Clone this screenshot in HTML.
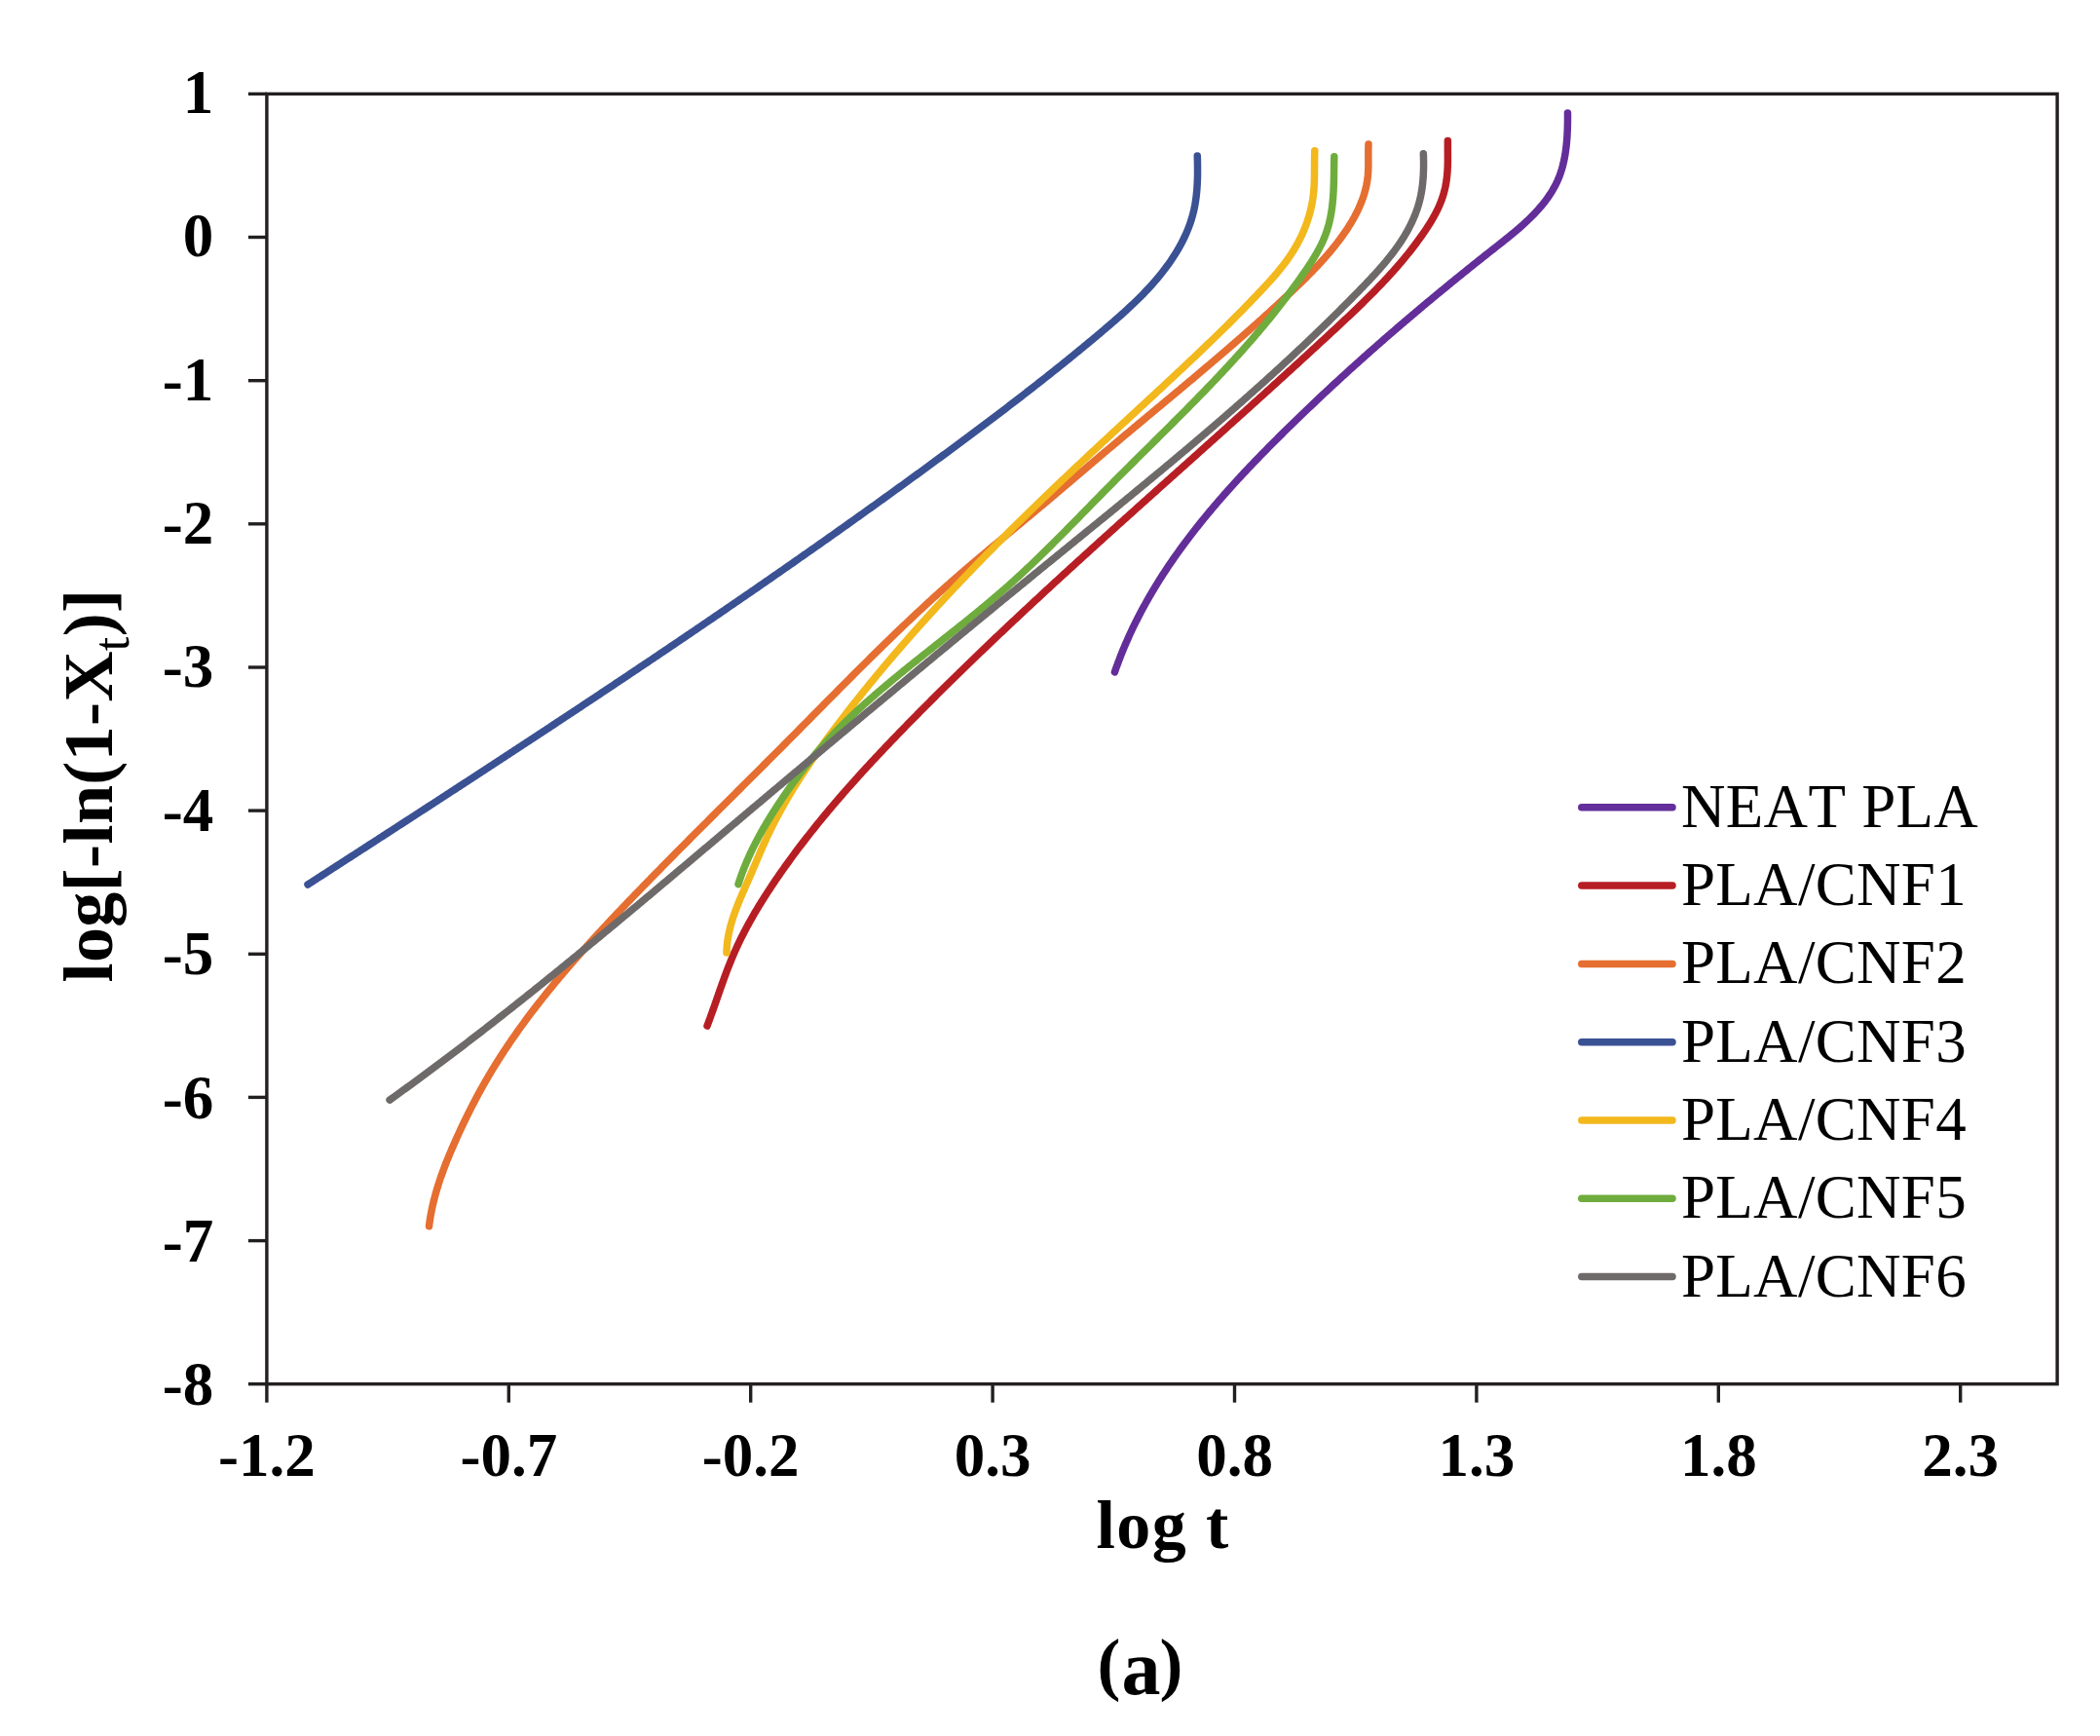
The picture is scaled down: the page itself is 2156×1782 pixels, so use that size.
<!DOCTYPE html>
<html><head><meta charset="utf-8"><title>chart</title>
<style>html,body{margin:0;padding:0;background:#fff}svg{display:block}text{font-family:"Liberation Serif",serif;fill:#000;font-kerning:none}.b{font-weight:bold}</style></head><body>
<svg width="2156" height="1782" viewBox="0 0 2156 1782">
<rect width="2156" height="1782" fill="#fff"/>
<g fill="none" stroke-width="7.5" stroke-linecap="round" stroke-linejoin="round">
<polyline stroke="#632e99" points="1144.40,689.91 1145.24,687.50 1146.10,685.10 1146.97,682.71 1147.85,680.33 1148.74,677.95 1149.65,675.58 1150.57,673.22 1151.51,670.87 1152.46,668.52 1153.42,666.18 1154.39,663.85 1155.38,661.53 1156.38,659.22 1157.40,656.91 1158.42,654.61 1159.46,652.32 1160.51,650.03 1161.57,647.75 1162.65,645.48 1163.74,643.21 1164.84,640.96 1165.95,638.71 1167.07,636.46 1168.21,634.23 1169.35,632.00 1170.51,629.78 1171.68,627.56 1172.86,625.35 1174.05,623.15 1175.25,620.95 1176.47,618.76 1177.69,616.58 1178.93,614.41 1180.18,612.24 1181.43,610.07 1182.70,607.92 1183.98,605.77 1185.27,603.62 1186.56,601.49 1187.87,599.36 1189.19,597.23 1190.52,595.11 1191.86,593.00 1193.21,590.89 1194.56,588.79 1195.93,586.70 1197.31,584.61 1198.69,582.53 1200.09,580.45 1201.49,578.38 1202.91,576.31 1204.33,574.25 1205.76,572.20 1207.20,570.15 1208.65,568.11 1210.10,566.07 1211.57,564.04 1213.04,562.02 1214.52,559.99 1216.01,557.98 1217.51,555.97 1219.02,553.96 1220.53,551.96 1222.05,549.97 1223.58,547.98 1225.12,546.00 1226.66,544.02 1228.21,542.04 1229.77,540.07 1231.33,538.11 1232.91,536.15 1234.49,534.20 1236.07,532.25 1237.66,530.30 1239.26,528.36 1240.87,526.43 1242.48,524.50 1244.10,522.57 1245.72,520.65 1247.35,518.73 1248.99,516.82 1250.63,514.91 1252.28,513.00 1253.94,511.10 1255.60,509.21 1257.26,507.32 1258.93,505.43 1260.61,503.55 1262.29,501.67 1263.98,499.79 1265.67,497.92 1267.36,496.06 1269.06,494.19 1270.77,492.33 1272.48,490.48 1274.19,488.63 1275.91,486.78 1277.64,484.93 1279.36,483.09 1281.10,481.26 1282.83,479.42 1284.57,477.59 1286.31,475.77 1288.06,473.94 1289.81,472.12 1291.57,470.31 1293.32,468.50 1295.08,466.69 1296.85,464.88 1298.62,463.08 1300.39,461.28 1302.16,459.48 1303.94,457.68 1305.71,455.89 1307.49,454.11 1309.28,452.32 1311.06,450.54 1312.85,448.76 1314.64,446.98 1316.44,445.21 1318.23,443.44 1320.03,441.67 1321.83,439.90 1323.62,438.14 1325.43,436.38 1327.23,434.62 1329.04,432.86 1330.84,431.11 1332.65,429.36 1334.46,427.61 1336.27,425.86 1338.09,424.12 1339.90,422.38 1341.72,420.64 1343.54,418.90 1345.36,417.17 1347.18,415.43 1349.00,413.70 1350.83,411.98 1352.65,410.25 1354.48,408.53 1356.31,406.81 1358.15,405.09 1359.98,403.38 1361.82,401.66 1363.65,399.95 1365.49,398.24 1367.33,396.53 1369.17,394.83 1371.02,393.13 1372.86,391.43 1374.71,389.73 1376.56,388.03 1378.41,386.34 1380.26,384.65 1382.12,382.96 1383.97,381.27 1385.83,379.59 1387.69,377.90 1389.55,376.22 1391.42,374.54 1393.28,372.86 1395.15,371.19 1397.01,369.52 1398.88,367.84 1400.76,366.18 1402.63,364.51 1404.50,362.84 1406.38,361.18 1408.26,359.52 1410.14,357.86 1412.02,356.20 1413.90,354.54 1415.79,352.89 1417.67,351.24 1419.56,349.59 1421.45,347.94 1423.34,346.29 1425.24,344.65 1427.13,343.00 1429.03,341.36 1430.93,339.72 1432.83,338.09 1434.73,336.45 1436.63,334.81 1438.54,333.18 1440.45,331.55 1442.36,329.92 1444.27,328.29 1446.18,326.67 1448.09,325.04 1450.01,323.42 1451.93,321.80 1453.85,320.18 1455.77,318.56 1457.69,316.94 1459.61,315.33 1461.54,313.72 1463.47,312.10 1465.40,310.49 1467.33,308.88 1469.26,307.28 1471.20,305.67 1473.13,304.07 1475.07,302.46 1477.01,300.86 1478.95,299.26 1480.90,297.66 1482.84,296.06 1484.79,294.47 1486.74,292.87 1488.69,291.28 1490.64,289.69 1492.59,288.10 1494.55,286.51 1496.50,284.92 1498.46,283.33 1500.42,281.75 1502.39,280.16 1504.35,278.58 1506.32,277.00 1508.28,275.41 1510.25,273.83 1512.22,272.26 1514.20,270.68 1516.17,269.10 1518.15,267.53 1520.12,265.95 1522.10,264.38 1524.09,262.81 1526.07,261.24 1528.05,259.67 1530.04,258.10 1532.03,256.53 1534.02,254.97 1536.01,253.40 1538.00,251.83 1539.99,250.27 1541.98,248.70 1543.96,247.12 1545.94,245.54 1547.91,243.96 1549.87,242.37 1551.83,240.77 1553.77,239.16 1555.70,237.55 1557.62,235.92 1559.53,234.28 1561.42,232.63 1563.29,230.97 1565.14,229.29 1566.98,227.59 1568.79,225.88 1570.59,224.15 1572.36,222.40 1574.10,220.63 1575.82,218.84 1577.52,217.03 1579.18,215.20 1580.81,213.35 1582.41,211.47 1583.98,209.57 1585.51,207.65 1586.99,205.70 1588.44,203.73 1589.85,201.73 1591.22,199.71 1592.53,197.66 1593.80,195.59 1595.02,193.48 1596.19,191.36 1597.31,189.20 1598.37,187.01 1599.38,184.80 1600.33,182.55 1601.22,180.28 1602.05,177.98 1602.82,175.65 1603.54,173.30 1604.21,170.92 1604.83,168.53 1605.39,166.11 1605.92,163.67 1606.40,161.22 1606.83,158.75 1607.22,156.27 1607.58,153.77 1607.90,151.26 1608.18,148.75 1608.43,146.22 1608.64,143.69 1608.83,141.16 1608.99,138.62 1609.12,136.08 1609.23,133.54 1609.31,131.01 1609.38,128.47 1609.43,125.94 1609.46,123.42 1609.47,120.90 1609.47,118.39 1609.46,115.90"/>
<polyline stroke="#b71e24" points="726.01,1053.10 726.90,1050.76 727.77,1048.41 728.64,1046.06 729.50,1043.71 730.35,1041.35 731.19,1038.99 732.03,1036.63 732.87,1034.26 733.70,1031.90 734.52,1029.54 735.35,1027.17 736.17,1024.80 737.00,1022.44 737.82,1020.07 738.65,1017.71 739.48,1015.35 740.31,1012.99 741.15,1010.63 741.99,1008.27 742.84,1005.92 743.69,1003.57 744.56,1001.22 745.43,998.88 746.32,996.54 747.21,994.20 748.12,991.87 749.04,989.55 749.97,987.23 750.92,984.92 751.88,982.61 752.86,980.31 753.85,978.02 754.87,975.74 755.90,973.46 756.95,971.19 758.01,968.93 759.09,966.67 760.18,964.42 761.29,962.17 762.42,959.94 763.56,957.71 764.71,955.48 765.88,953.27 767.06,951.06 768.26,948.85 769.47,946.66 770.69,944.47 771.93,942.28 773.17,940.10 774.43,937.93 775.70,935.76 776.99,933.60 778.28,931.45 779.58,929.30 780.90,927.16 782.22,925.02 783.56,922.89 784.90,920.77 786.26,918.65 787.62,916.53 788.99,914.42 790.37,912.32 791.76,910.22 793.15,908.13 794.56,906.05 795.97,903.96 797.38,901.89 798.81,899.82 800.24,897.75 801.67,895.69 803.12,893.63 804.57,891.58 806.02,889.54 807.48,887.50 808.95,885.46 810.42,883.43 811.90,881.40 813.38,879.38 814.87,877.36 816.37,875.35 817.87,873.34 819.38,871.34 820.89,869.34 822.41,867.35 823.93,865.36 825.46,863.37 826.99,861.39 828.53,859.42 830.08,857.44 831.63,855.47 833.18,853.51 834.74,851.55 836.31,849.59 837.87,847.64 839.45,845.69 841.03,843.75 842.61,841.81 844.20,839.87 845.79,837.94 847.39,836.01 848.99,834.09 850.60,832.17 852.21,830.25 853.83,828.34 855.45,826.43 857.07,824.52 858.70,822.62 860.33,820.72 861.97,818.82 863.61,816.93 865.25,815.04 866.90,813.15 868.55,811.27 870.21,809.39 871.87,807.51 873.53,805.64 875.20,803.77 876.87,801.90 878.54,800.03 880.22,798.17 881.90,796.31 883.58,794.46 885.27,792.60 886.96,790.75 888.65,788.91 890.35,787.06 892.05,785.22 893.75,783.38 895.45,781.54 897.16,779.71 898.87,777.87 900.59,776.04 902.30,774.22 904.02,772.39 905.74,770.57 907.47,768.75 909.19,766.93 910.92,765.11 912.65,763.30 914.38,761.49 916.12,759.68 917.86,757.87 919.60,756.06 921.34,754.26 923.08,752.45 924.83,750.65 926.58,748.86 928.33,747.06 930.08,745.26 931.83,743.47 933.59,741.68 935.34,739.89 937.10,738.10 938.86,736.31 940.62,734.52 942.38,732.74 944.15,730.96 945.91,729.18 947.68,727.40 949.45,725.62 951.22,723.84 952.99,722.06 954.76,720.29 956.53,718.52 958.31,716.75 960.09,714.98 961.86,713.21 963.64,711.44 965.42,709.67 967.21,707.91 968.99,706.15 970.78,704.38 972.56,702.62 974.35,700.86 976.14,699.11 977.93,697.35 979.72,695.60 981.51,693.84 983.31,692.09 985.10,690.34 986.90,688.59 988.70,686.84 990.50,685.09 992.30,683.34 994.10,681.60 995.90,679.85 997.70,678.11 999.51,676.37 1001.31,674.63 1003.12,672.89 1004.93,671.15 1006.74,669.41 1008.55,667.68 1010.36,665.94 1012.17,664.21 1013.99,662.48 1015.80,660.75 1017.62,659.02 1019.44,657.29 1021.25,655.56 1023.07,653.83 1024.89,652.10 1026.71,650.38 1028.54,648.66 1030.36,646.93 1032.18,645.21 1034.01,643.49 1035.83,641.77 1037.66,640.05 1039.49,638.33 1041.32,636.61 1043.15,634.90 1044.98,633.18 1046.81,631.47 1048.64,629.76 1050.47,628.04 1052.31,626.33 1054.14,624.62 1055.98,622.91 1057.81,621.20 1059.65,619.49 1061.49,617.79 1063.33,616.08 1065.17,614.38 1067.01,612.67 1068.85,610.97 1070.69,609.26 1072.53,607.56 1074.38,605.86 1076.22,604.16 1078.07,602.46 1079.91,600.76 1081.76,599.06 1083.60,597.36 1085.45,595.67 1087.30,593.97 1089.15,592.27 1091.00,590.58 1092.85,588.89 1094.70,587.19 1096.55,585.50 1098.40,583.81 1100.25,582.12 1102.11,580.43 1103.96,578.73 1105.81,577.05 1107.67,575.36 1109.52,573.67 1111.38,571.98 1113.23,570.29 1115.09,568.61 1116.95,566.92 1118.80,565.23 1120.66,563.55 1122.52,561.87 1124.38,560.18 1126.24,558.50 1128.10,556.81 1129.96,555.13 1131.82,553.45 1133.68,551.77 1135.54,550.09 1137.40,548.41 1139.26,546.73 1141.12,545.05 1142.99,543.37 1144.85,541.69 1146.71,540.01 1148.57,538.33 1150.44,536.66 1152.30,534.98 1154.17,533.30 1156.03,531.63 1157.89,529.95 1159.76,528.27 1161.62,526.60 1163.49,524.92 1165.35,523.25 1167.22,521.57 1169.09,519.90 1170.95,518.23 1172.82,516.55 1174.68,514.88 1176.55,513.20 1178.42,511.53 1180.28,509.86 1182.15,508.19 1184.02,506.51 1185.88,504.84 1187.75,503.17 1189.62,501.50 1191.48,499.83 1193.35,498.16 1195.22,496.48 1197.08,494.81 1198.95,493.14 1200.82,491.47 1202.68,489.80 1204.55,488.13 1206.42,486.46 1208.29,484.79 1210.15,483.12 1212.02,481.45 1213.89,479.78 1215.75,478.11 1217.62,476.44 1219.48,474.77 1221.35,473.10 1223.22,471.43 1225.08,469.76 1226.95,468.09 1228.81,466.42 1230.68,464.75 1232.54,463.08 1234.41,461.41 1236.27,459.74 1238.14,458.07 1240.00,456.40 1241.87,454.72 1243.73,453.05 1245.60,451.38 1247.46,449.71 1249.33,448.04 1251.19,446.37 1253.05,444.70 1254.92,443.02 1256.78,441.35 1258.64,439.68 1260.51,438.01 1262.37,436.33 1264.23,434.66 1266.09,432.99 1267.95,431.31 1269.82,429.64 1271.68,427.96 1273.54,426.29 1275.40,424.61 1277.26,422.94 1279.12,421.26 1280.98,419.59 1282.84,417.91 1284.70,416.23 1286.56,414.55 1288.42,412.87 1290.28,411.20 1292.14,409.52 1294.00,407.84 1295.86,406.16 1297.72,404.48 1299.58,402.80 1301.43,401.11 1303.29,399.43 1305.15,397.75 1307.00,396.07 1308.86,394.38 1310.72,392.70 1312.57,391.01 1314.43,389.33 1316.29,387.64 1318.14,385.95 1320.00,384.26 1321.85,382.58 1323.70,380.89 1325.56,379.20 1327.41,377.51 1329.27,375.81 1331.12,374.12 1332.97,372.43 1334.82,370.74 1336.68,369.04 1338.53,367.35 1340.38,365.65 1342.23,363.95 1344.08,362.26 1345.93,360.56 1347.78,358.86 1349.63,357.16 1351.48,355.46 1353.33,353.75 1355.18,352.05 1357.02,350.35 1358.87,348.64 1360.72,346.94 1362.57,345.23 1364.41,343.52 1366.26,341.81 1368.10,340.10 1369.95,338.39 1371.79,336.68 1373.64,334.97 1375.48,333.25 1377.32,331.54 1379.16,329.82 1381.00,328.10 1382.83,326.37 1384.66,324.65 1386.49,322.92 1388.32,321.18 1390.14,319.45 1391.96,317.71 1393.78,315.97 1395.59,314.22 1397.39,312.47 1399.20,310.71 1400.99,308.95 1402.78,307.19 1404.57,305.42 1406.35,303.65 1408.13,301.87 1409.90,300.08 1411.66,298.29 1413.41,296.50 1415.16,294.70 1416.90,292.89 1418.64,291.07 1420.36,289.25 1422.08,287.42 1423.79,285.59 1425.49,283.74 1427.19,281.89 1428.87,280.04 1430.54,278.17 1432.21,276.30 1433.86,274.42 1435.51,272.53 1437.14,270.63 1438.76,268.72 1440.38,266.80 1441.98,264.88 1443.57,262.94 1445.15,261.00 1446.71,259.04 1448.27,257.08 1449.81,255.10 1451.34,253.12 1452.85,251.12 1454.36,249.12 1455.85,247.10 1457.32,245.07 1458.78,243.03 1460.23,240.98 1461.66,238.92 1463.08,236.84 1464.48,234.75 1465.85,232.65 1467.21,230.53 1468.53,228.40 1469.83,226.26 1471.09,224.10 1472.32,221.93 1473.51,219.74 1474.66,217.53 1475.76,215.30 1476.82,213.06 1477.83,210.80 1478.79,208.52 1479.70,206.22 1480.54,203.90 1481.33,201.56 1482.06,199.20 1482.72,196.82 1483.31,194.42 1483.85,192.00 1484.33,189.56 1484.75,187.11 1485.12,184.65 1485.43,182.17 1485.69,179.68 1485.91,177.18 1486.07,174.67 1486.20,172.15 1486.29,169.63 1486.35,167.10 1486.38,164.57 1486.39,162.05 1486.39,159.52 1486.38,157.00 1486.36,154.48 1486.35,151.97 1486.35,149.47 1486.36,146.98 1486.38,144.50"/>
<polyline stroke="#e56e30" points="440.50,1258.80 440.81,1256.30 441.16,1253.81 441.53,1251.33 441.94,1248.86 442.37,1246.39 442.84,1243.93 443.33,1241.48 443.85,1239.03 444.39,1236.59 444.96,1234.16 445.56,1231.73 446.18,1229.31 446.82,1226.90 447.49,1224.49 448.18,1222.09 448.90,1219.70 449.63,1217.31 450.38,1214.93 451.16,1212.55 451.95,1210.18 452.76,1207.81 453.59,1205.45 454.44,1203.10 455.31,1200.75 456.19,1198.40 457.08,1196.06 457.99,1193.72 458.92,1191.39 459.86,1189.07 460.81,1186.74 461.77,1184.42 462.74,1182.11 463.73,1179.80 464.72,1177.49 465.73,1175.19 466.74,1172.89 467.76,1170.60 468.79,1168.30 469.83,1166.02 470.87,1163.73 471.92,1161.45 472.98,1159.17 474.05,1156.90 475.12,1154.63 476.20,1152.36 477.29,1150.10 478.39,1147.84 479.49,1145.59 480.60,1143.34 481.73,1141.09 482.85,1138.85 483.99,1136.62 485.14,1134.39 486.29,1132.16 487.45,1129.94 488.62,1127.72 489.80,1125.51 490.99,1123.31 492.19,1121.11 493.39,1118.91 494.61,1116.72 495.83,1114.54 497.07,1112.36 498.31,1110.19 499.56,1108.02 500.82,1105.86 502.09,1103.71 503.37,1101.56 504.65,1099.42 505.95,1097.28 507.26,1095.15 508.57,1093.02 509.89,1090.90 511.22,1088.79 512.56,1086.68 513.91,1084.58 515.26,1082.48 516.63,1080.38 518.00,1078.30 519.38,1076.21 520.76,1074.14 522.16,1072.07 523.56,1070.00 524.97,1067.94 526.39,1065.88 527.82,1063.83 529.25,1061.78 530.69,1059.74 532.14,1057.70 533.59,1055.67 535.05,1053.64 536.52,1051.62 538.00,1049.60 539.48,1047.59 540.97,1045.58 542.46,1043.57 543.96,1041.57 545.47,1039.58 546.99,1037.59 548.51,1035.60 550.03,1033.62 551.57,1031.64 553.11,1029.66 554.65,1027.69 556.20,1025.73 557.76,1023.76 559.32,1021.81 560.89,1019.85 562.46,1017.90 564.04,1015.96 565.63,1014.01 567.21,1012.08 568.81,1010.14 570.41,1008.21 572.01,1006.28 573.62,1004.36 575.24,1002.44 576.86,1000.52 578.48,998.61 580.11,996.70 581.74,994.79 583.38,992.89 585.02,990.99 586.66,989.09 588.31,987.20 589.97,985.31 591.62,983.42 593.29,981.54 594.95,979.66 596.62,977.78 598.29,975.90 599.97,974.03 601.65,972.16 603.33,970.29 605.02,968.43 606.71,966.57 608.40,964.71 610.10,962.85 611.79,961.00 613.50,959.15 615.20,957.30 616.91,955.45 618.62,953.61 620.33,951.77 622.04,949.93 623.76,948.09 625.48,946.26 627.20,944.42 628.92,942.59 630.65,940.77 632.37,938.94 634.10,937.11 635.83,935.29 637.57,933.47 639.30,931.65 641.04,929.83 642.77,928.02 644.51,926.20 646.25,924.39 647.99,922.58 649.73,920.77 651.48,918.97 653.22,917.16 654.96,915.35 656.71,913.55 658.46,911.75 660.20,909.95 661.95,908.15 663.70,906.35 665.45,904.56 667.20,902.76 668.95,900.97 670.70,899.17 672.46,897.38 674.21,895.59 675.96,893.80 677.72,892.01 679.48,890.23 681.23,888.44 682.99,886.65 684.75,884.87 686.50,883.09 688.26,881.30 690.02,879.52 691.78,877.74 693.54,875.96 695.31,874.18 697.07,872.41 698.83,870.63 700.59,868.85 702.36,867.08 704.12,865.30 705.88,863.53 707.65,861.76 709.41,859.98 711.18,858.21 712.95,856.44 714.71,854.67 716.48,852.90 718.25,851.13 720.01,849.36 721.78,847.59 723.55,845.82 725.32,844.05 727.09,842.28 728.86,840.52 730.63,838.75 732.40,836.98 734.17,835.22 735.94,833.45 737.71,831.68 739.48,829.92 741.25,828.15 743.02,826.39 744.79,824.62 746.56,822.86 748.33,821.09 750.11,819.33 751.88,817.56 753.65,815.80 755.42,814.03 757.19,812.27 758.96,810.50 760.74,808.74 762.51,806.97 764.28,805.21 766.05,803.44 767.82,801.68 769.59,799.91 771.37,798.14 773.14,796.38 774.91,794.61 776.68,792.84 778.45,791.08 780.22,789.31 781.99,787.54 783.76,785.77 785.53,784.00 787.30,782.23 789.07,780.46 790.84,778.69 792.61,776.92 794.38,775.15 796.15,773.38 797.92,771.60 799.69,769.83 801.45,768.06 803.22,766.28 804.99,764.50 806.76,762.73 808.52,760.95 810.29,759.17 812.05,757.39 813.82,755.61 815.59,753.83 817.35,752.05 819.11,750.27 820.88,748.49 822.64,746.71 824.41,744.92 826.17,743.14 827.93,741.36 829.70,739.57 831.46,737.79 833.23,736.00 834.99,734.22 836.75,732.43 838.52,730.65 840.28,728.86 842.05,727.08 843.81,725.29 845.57,723.51 847.34,721.73 849.10,719.94 850.87,718.16 852.64,716.37 854.40,714.59 856.17,712.81 857.94,711.02 859.71,709.24 861.47,707.46 863.24,705.68 865.01,703.90 866.78,702.12 868.56,700.34 870.33,698.56 872.10,696.78 873.87,695.00 875.65,693.23 877.42,691.45 879.20,689.68 880.98,687.91 882.76,686.13 884.53,684.36 886.32,682.59 888.10,680.83 889.88,679.06 891.66,677.29 893.45,675.53 895.23,673.77 897.02,672.00 898.81,670.24 900.60,668.49 902.39,666.73 904.18,664.97 905.98,663.22 907.77,661.47 909.57,659.72 911.37,657.97 913.17,656.22 914.97,654.48 916.77,652.74 918.58,651.00 920.38,649.26 922.19,647.52 924.00,645.79 925.82,644.06 927.63,642.33 929.44,640.60 931.26,638.87 933.08,637.15 934.90,635.43 936.73,633.71 938.55,632.00 940.38,630.29 942.21,628.58 944.04,626.87 945.88,625.17 947.71,623.46 949.55,621.77 951.39,620.07 953.23,618.38 955.08,616.69 956.93,615.00 958.78,613.31 960.63,611.63 962.49,609.96 964.34,608.28 966.20,606.61 968.07,604.94 969.93,603.28 971.80,601.62 973.67,599.96 975.55,598.30 977.42,596.65 979.30,595.00 981.18,593.36 983.07,591.72 984.95,590.08 986.84,588.44 988.73,586.81 990.62,585.18 992.52,583.55 994.42,581.93 996.32,580.31 998.22,578.68 1000.12,577.07 1002.02,575.45 1003.93,573.84 1005.84,572.22 1007.75,570.61 1009.66,569.00 1011.57,567.40 1013.48,565.79 1015.40,564.18 1017.31,562.58 1019.23,560.98 1021.15,559.38 1023.07,557.78 1024.99,556.18 1026.91,554.58 1028.83,552.98 1030.75,551.38 1032.67,549.79 1034.59,548.19 1036.52,546.59 1038.44,545.00 1040.37,543.40 1042.29,541.80 1044.21,540.21 1046.14,538.61 1048.06,537.01 1049.99,535.41 1051.91,533.81 1053.84,532.22 1055.76,530.62 1057.68,529.02 1059.61,527.41 1061.53,525.81 1063.45,524.21 1065.37,522.60 1067.29,520.99 1069.21,519.39 1071.13,517.78 1073.05,516.17 1074.97,514.55 1076.88,512.94 1078.80,511.32 1080.72,509.71 1082.63,508.09 1084.54,506.47 1086.46,504.85 1088.37,503.23 1090.28,501.60 1092.19,499.98 1094.10,498.36 1096.02,496.73 1097.93,495.11 1099.84,493.48 1101.75,491.85 1103.66,490.23 1105.57,488.60 1107.48,486.97 1109.39,485.35 1111.30,483.72 1113.21,482.09 1115.12,480.47 1117.03,478.84 1118.94,477.21 1120.85,475.59 1122.76,473.96 1124.67,472.34 1126.58,470.72 1128.49,469.09 1130.41,467.47 1132.32,465.85 1134.23,464.23 1136.15,462.61 1138.06,460.99 1139.98,459.37 1141.89,457.76 1143.81,456.15 1145.73,454.53 1147.65,452.92 1149.57,451.31 1151.48,449.70 1153.40,448.09 1155.32,446.48 1157.24,444.87 1159.17,443.27 1161.09,441.66 1163.01,440.06 1164.93,438.45 1166.85,436.85 1168.77,435.25 1170.70,433.64 1172.62,432.04 1174.54,430.44 1176.47,428.84 1178.39,427.24 1180.31,425.64 1182.24,424.04 1184.16,422.43 1186.08,420.83 1188.00,419.23 1189.93,417.63 1191.85,416.03 1193.77,414.43 1195.70,412.83 1197.62,411.23 1199.54,409.63 1201.46,408.03 1203.38,406.43 1205.30,404.83 1207.22,403.22 1209.14,401.62 1211.06,400.02 1212.98,398.41 1214.90,396.81 1216.82,395.20 1218.74,393.60 1220.65,391.99 1222.57,390.38 1224.49,388.77 1226.40,387.16 1228.32,385.55 1230.23,383.94 1232.14,382.33 1234.05,380.71 1235.97,379.10 1237.88,377.48 1239.78,375.87 1241.69,374.25 1243.60,372.63 1245.51,371.01 1247.41,369.38 1249.32,367.76 1251.22,366.13 1253.12,364.50 1255.02,362.87 1256.92,361.24 1258.82,359.61 1260.72,357.97 1262.61,356.34 1264.51,354.70 1266.40,353.06 1268.29,351.42 1270.18,349.77 1272.07,348.12 1273.96,346.48 1275.84,344.82 1277.73,343.17 1279.61,341.51 1281.49,339.86 1283.37,338.20 1285.25,336.53 1287.12,334.87 1289.00,333.20 1290.87,331.53 1292.74,329.85 1294.61,328.18 1296.48,326.50 1298.34,324.82 1300.20,323.13 1302.07,321.45 1303.92,319.76 1305.78,318.06 1307.64,316.36 1309.49,314.67 1311.34,312.96 1313.19,311.26 1315.04,309.55 1316.88,307.83 1318.72,306.12 1320.56,304.40 1322.40,302.68 1324.23,300.95 1326.07,299.22 1327.90,297.49 1329.72,295.75 1331.55,294.00 1333.36,292.26 1335.18,290.50 1336.98,288.74 1338.79,286.98 1340.58,285.21 1342.36,283.43 1344.14,281.64 1345.91,279.85 1347.67,278.05 1349.42,276.24 1351.16,274.42 1352.88,272.59 1354.60,270.75 1356.30,268.90 1357.99,267.04 1359.67,265.17 1361.33,263.29 1362.98,261.40 1364.61,259.49 1366.22,257.57 1367.82,255.64 1369.40,253.70 1370.96,251.74 1372.51,249.77 1374.03,247.79 1375.54,245.79 1377.02,243.77 1378.48,241.74 1379.92,239.69 1381.34,237.63 1382.74,235.55 1384.11,233.45 1385.45,231.34 1386.76,229.21 1388.04,227.06 1389.28,224.90 1390.50,222.73 1391.67,220.53 1392.81,218.32 1393.90,216.09 1394.96,213.85 1395.97,211.59 1396.93,209.31 1397.85,207.02 1398.72,204.71 1399.54,202.38 1400.30,200.03 1401.01,197.67 1401.67,195.30 1402.26,192.90 1402.80,190.49 1403.27,188.06 1403.69,185.62 1404.03,183.16 1404.32,180.68 1404.53,178.18 1404.68,175.67 1404.78,173.15 1404.84,170.62 1404.86,168.09 1404.86,165.55 1404.85,163.02 1404.83,160.49 1404.82,157.96 1404.82,155.45 1404.84,152.95 1404.90,150.47 1405.00,148.00"/>
<polyline stroke="#3a5193" points="316.00,908.00 318.11,906.65 320.21,905.29 322.31,903.94 324.41,902.58 326.51,901.22 328.62,899.87 330.72,898.51 332.82,897.15 334.92,895.79 337.02,894.44 339.13,893.08 341.23,891.72 343.33,890.36 345.44,889.01 347.54,887.65 349.64,886.29 351.74,884.93 353.85,883.58 355.95,882.22 358.05,880.86 360.16,879.50 362.26,878.14 364.36,876.78 366.46,875.42 368.57,874.06 370.67,872.71 372.77,871.35 374.88,869.99 376.98,868.63 379.08,867.27 381.19,865.91 383.29,864.55 385.39,863.19 387.50,861.83 389.60,860.46 391.71,859.10 393.81,857.74 395.91,856.38 398.02,855.02 400.12,853.66 402.22,852.30 404.33,850.94 406.43,849.57 408.53,848.21 410.64,846.85 412.74,845.49 414.84,844.12 416.95,842.76 419.05,841.40 421.15,840.03 423.26,838.67 425.36,837.31 427.46,835.94 429.57,834.58 431.67,833.21 433.77,831.85 435.88,830.49 437.98,829.12 440.08,827.76 442.19,826.39 444.29,825.02 446.39,823.66 448.49,822.29 450.60,820.93 452.70,819.56 454.80,818.19 456.91,816.83 459.01,815.46 461.11,814.09 463.21,812.72 465.32,811.36 467.42,809.99 469.52,808.62 471.62,807.25 473.72,805.88 475.83,804.51 477.93,803.14 480.03,801.78 482.13,800.41 484.23,799.04 486.34,797.67 488.44,796.29 490.54,794.92 492.64,793.55 494.74,792.18 496.84,790.81 498.94,789.44 501.04,788.07 503.14,786.69 505.25,785.32 507.35,783.95 509.45,782.57 511.55,781.20 513.65,779.83 515.75,778.45 517.85,777.08 519.95,775.70 522.05,774.33 524.15,772.95 526.25,771.58 528.34,770.20 530.44,768.83 532.54,767.45 534.64,766.07 536.74,764.70 538.84,763.32 540.94,761.94 543.04,760.56 545.13,759.19 547.23,757.81 549.33,756.43 551.43,755.05 553.52,753.67 555.62,752.29 557.72,750.91 559.82,749.53 561.91,748.15 564.01,746.77 566.10,745.39 568.20,744.00 570.30,742.62 572.39,741.24 574.49,739.86 576.58,738.47 578.68,737.09 580.77,735.71 582.87,734.32 584.96,732.94 587.06,731.55 589.15,730.17 591.25,728.78 593.34,727.40 595.43,726.01 597.53,724.62 599.62,723.24 601.71,721.85 603.81,720.46 605.90,719.07 607.99,717.68 610.08,716.30 612.17,714.91 614.27,713.52 616.36,712.13 618.45,710.74 620.54,709.35 622.63,707.95 624.72,706.56 626.81,705.17 628.90,703.78 630.99,702.39 633.08,700.99 635.17,699.60 637.26,698.21 639.35,696.81 641.43,695.42 643.52,694.02 645.61,692.63 647.70,691.23 649.78,689.83 651.87,688.44 653.96,687.04 656.04,685.64 658.13,684.24 660.22,682.85 662.30,681.45 664.39,680.05 666.47,678.65 668.56,677.25 670.64,675.85 672.73,674.45 674.81,673.04 676.89,671.64 678.98,670.24 681.06,668.84 683.14,667.43 685.22,666.03 687.31,664.63 689.39,663.22 691.47,661.82 693.55,660.41 695.63,659.01 697.71,657.60 699.79,656.19 701.87,654.79 703.95,653.38 706.03,651.97 708.11,650.56 710.18,649.15 712.26,647.74 714.34,646.33 716.42,644.92 718.49,643.51 720.57,642.10 722.65,640.69 724.72,639.27 726.80,637.86 728.87,636.45 730.95,635.03 733.02,633.62 735.10,632.20 737.17,630.79 739.24,629.37 741.32,627.96 743.39,626.54 745.46,625.12 747.53,623.70 749.60,622.28 751.68,620.87 753.75,619.45 755.82,618.03 757.89,616.61 759.96,615.18 762.03,613.76 764.09,612.34 766.16,610.92 768.23,609.49 770.30,608.07 772.36,606.65 774.43,605.22 776.50,603.80 778.56,602.37 780.63,600.94 782.69,599.52 784.76,598.09 786.82,596.66 788.89,595.23 790.95,593.80 793.01,592.37 795.07,590.94 797.14,589.51 799.20,588.08 801.26,586.65 803.32,585.22 805.38,583.79 807.44,582.35 809.50,580.92 811.56,579.48 813.62,578.05 815.67,576.61 817.73,575.18 819.79,573.74 821.84,572.30 823.90,570.86 825.96,569.42 828.01,567.98 830.07,566.54 832.12,565.10 834.17,563.66 836.23,562.22 838.28,560.78 840.33,559.34 842.38,557.89 844.43,556.45 846.48,555.00 848.53,553.56 850.58,552.11 852.63,550.67 854.68,549.22 856.73,547.77 858.78,546.32 860.83,544.87 862.87,543.42 864.92,541.97 866.96,540.52 869.01,539.07 871.05,537.62 873.10,536.17 875.14,534.71 877.18,533.26 879.23,531.80 881.27,530.35 883.31,528.89 885.35,527.44 887.39,525.98 889.43,524.52 891.47,523.06 893.51,521.60 895.55,520.14 897.59,518.68 899.62,517.22 901.66,515.76 903.70,514.30 905.73,512.84 907.77,511.37 909.80,509.91 911.83,508.44 913.87,506.98 915.90,505.51 917.93,504.04 919.96,502.58 921.99,501.11 924.02,499.64 926.05,498.17 928.08,496.70 930.11,495.23 932.14,493.75 934.17,492.28 936.19,490.81 938.22,489.33 940.24,487.86 942.27,486.38 944.29,484.91 946.32,483.43 948.34,481.95 950.36,480.48 952.39,479.00 954.41,477.52 956.43,476.04 958.45,474.56 960.47,473.07 962.49,471.59 964.50,470.11 966.52,468.62 968.54,467.14 970.55,465.65 972.57,464.17 974.58,462.68 976.60,461.19 978.61,459.71 980.63,458.22 982.64,456.73 984.65,455.24 986.66,453.75 988.67,452.25 990.68,450.76 992.69,449.27 994.70,447.77 996.71,446.27 998.71,444.78 1000.72,443.28 1002.72,441.78 1004.73,440.28 1006.73,438.78 1008.74,437.28 1010.74,435.77 1012.74,434.27 1014.74,432.76 1016.74,431.25 1018.74,429.74 1020.74,428.23 1022.73,426.72 1024.73,425.21 1026.72,423.69 1028.72,422.18 1030.71,420.66 1032.71,419.14 1034.70,417.62 1036.69,416.10 1038.68,414.58 1040.67,413.05 1042.66,411.53 1044.64,410.00 1046.63,408.47 1048.61,406.93 1050.60,405.40 1052.58,403.87 1054.56,402.33 1056.54,400.79 1058.52,399.25 1060.50,397.70 1062.48,396.16 1064.46,394.61 1066.43,393.06 1068.41,391.51 1070.38,389.96 1072.36,388.40 1074.33,386.85 1076.30,385.29 1078.27,383.73 1080.24,382.16 1082.20,380.60 1084.17,379.03 1086.13,377.46 1088.10,375.88 1090.06,374.31 1092.02,372.73 1093.98,371.15 1095.94,369.57 1097.90,367.98 1099.85,366.40 1101.81,364.81 1103.76,363.21 1105.71,361.62 1107.67,360.02 1109.62,358.42 1111.56,356.82 1113.51,355.21 1115.46,353.60 1117.40,351.99 1119.35,350.38 1121.29,348.76 1123.23,347.14 1125.17,345.52 1127.11,343.89 1129.04,342.26 1130.98,340.63 1132.91,339.00 1134.84,337.36 1136.77,335.72 1138.70,334.07 1140.62,332.42 1142.54,330.76 1144.45,329.10 1146.36,327.44 1148.26,325.76 1150.15,324.09 1152.04,322.40 1153.92,320.71 1155.79,319.01 1157.65,317.30 1159.50,315.59 1161.35,313.86 1163.18,312.13 1165.00,310.39 1166.81,308.64 1168.61,306.88 1170.39,305.11 1172.16,303.32 1173.92,301.53 1175.66,299.73 1177.38,297.91 1179.10,296.09 1180.79,294.25 1182.47,292.39 1184.13,290.53 1185.77,288.65 1187.40,286.76 1189.00,284.85 1190.59,282.93 1192.15,280.99 1193.70,279.04 1195.22,277.07 1196.72,275.09 1198.20,273.09 1199.65,271.08 1201.09,269.04 1202.49,266.99 1203.88,264.93 1205.23,262.84 1206.57,260.74 1207.87,258.61 1209.15,256.47 1210.40,254.31 1211.61,252.14 1212.80,249.94 1213.95,247.73 1215.07,245.50 1216.16,243.25 1217.20,240.98 1218.21,238.70 1219.18,236.41 1220.11,234.09 1220.99,231.76 1221.83,229.42 1222.63,227.06 1223.38,224.68 1224.08,222.29 1224.73,219.89 1225.33,217.47 1225.89,215.04 1226.39,212.60 1226.86,210.14 1227.27,207.68 1227.65,205.20 1227.99,202.72 1228.28,200.23 1228.54,197.73 1228.77,195.22 1228.96,192.71 1229.12,190.20 1229.25,187.68 1229.36,185.16 1229.44,182.63 1229.49,180.11 1229.52,177.59 1229.53,175.06 1229.52,172.54 1229.50,170.03 1229.46,167.51 1229.41,165.00 1229.35,162.50 1229.28,160.00"/>
<polyline stroke="#f2b81c" points="746.00,977.90 746.08,975.35 746.22,972.82 746.42,970.31 746.68,967.81 747.00,965.32 747.38,962.85 747.81,960.39 748.29,957.95 748.81,955.52 749.39,953.10 750.00,950.69 750.66,948.29 751.36,945.90 752.09,943.52 752.86,941.15 753.67,938.79 754.50,936.43 755.36,934.09 756.25,931.75 757.16,929.41 758.09,927.08 759.04,924.75 760.00,922.43 760.98,920.11 761.98,917.80 762.98,915.48 763.99,913.17 765.01,910.86 766.02,908.55 767.04,906.24 768.06,903.93 769.08,901.61 770.08,899.30 771.09,896.98 772.08,894.66 773.07,892.34 774.06,890.02 775.05,887.69 776.03,885.37 777.02,883.05 778.01,880.74 779.00,878.42 779.99,876.11 780.99,873.80 781.99,871.49 783.00,869.19 784.02,866.89 785.05,864.60 786.09,862.32 787.14,860.04 788.20,857.77 789.27,855.50 790.36,853.25 791.46,851.00 792.58,848.76 793.70,846.52 794.84,844.29 795.99,842.07 797.15,839.85 798.32,837.64 799.50,835.44 800.69,833.25 801.90,831.06 803.11,828.87 804.34,826.70 805.58,824.52 806.82,822.36 808.08,820.20 809.35,818.05 810.62,815.90 811.91,813.76 813.20,811.62 814.51,809.49 815.82,807.36 817.14,805.24 818.48,803.13 819.82,801.02 821.16,798.91 822.52,796.81 823.88,794.72 825.26,792.63 826.64,790.55 828.03,788.47 829.42,786.39 830.82,784.32 832.23,782.25 833.65,780.19 835.07,778.13 836.50,776.08 837.94,774.03 839.38,771.98 840.83,769.94 842.28,767.90 843.74,765.87 845.21,763.84 846.68,761.81 848.16,759.79 849.64,757.77 851.12,755.75 852.61,753.74 854.11,751.73 855.61,749.72 857.11,747.72 858.62,745.72 860.13,743.72 861.65,741.73 863.17,739.74 864.69,737.75 866.22,735.76 867.75,733.78 869.28,731.80 870.82,729.82 872.36,727.84 873.90,725.87 875.45,723.90 877.00,721.93 878.55,719.96 880.11,718.00 881.67,716.04 883.23,714.08 884.80,712.13 886.37,710.17 887.94,708.22 889.51,706.28 891.09,704.33 892.68,702.39 894.26,700.45 895.85,698.51 897.44,696.58 899.04,694.64 900.63,692.71 902.23,690.78 903.84,688.86 905.44,686.94 907.05,685.02 908.67,683.10 910.28,681.18 911.90,679.27 913.52,677.36 915.15,675.45 916.77,673.54 918.40,671.64 920.03,669.74 921.67,667.84 923.31,665.94 924.95,664.04 926.59,662.15 928.24,660.26 929.89,658.37 931.54,656.49 933.20,654.60 934.85,652.72 936.51,650.84 938.17,648.97 939.84,647.09 941.51,645.22 943.18,643.35 944.85,641.48 946.53,639.61 948.20,637.75 949.88,635.89 951.57,634.03 953.25,632.17 954.94,630.31 956.63,628.46 958.32,626.61 960.02,624.76 961.71,622.91 963.41,621.07 965.12,619.22 966.82,617.38 968.53,615.54 970.23,613.71 971.95,611.87 973.66,610.04 975.37,608.20 977.09,606.38 978.81,604.55 980.53,602.72 982.26,600.90 983.98,599.08 985.71,597.26 987.44,595.44 989.18,593.62 990.91,591.81 992.65,589.99 994.39,588.18 996.13,586.38 997.87,584.57 999.61,582.76 1001.36,580.96 1003.11,579.16 1004.86,577.36 1006.61,575.56 1008.36,573.76 1010.12,571.97 1011.88,570.18 1013.64,568.38 1015.40,566.59 1017.16,564.81 1018.93,563.02 1020.69,561.24 1022.46,559.45 1024.23,557.67 1026.00,555.89 1027.78,554.11 1029.55,552.34 1031.33,550.56 1033.11,548.79 1034.89,547.02 1036.67,545.25 1038.45,543.48 1040.23,541.71 1042.02,539.95 1043.81,538.19 1045.60,536.42 1047.39,534.66 1049.18,532.90 1050.97,531.15 1052.77,529.39 1054.56,527.63 1056.36,525.88 1058.16,524.13 1059.96,522.38 1061.76,520.63 1063.56,518.88 1065.37,517.14 1067.17,515.39 1068.98,513.65 1070.78,511.91 1072.59,510.16 1074.40,508.43 1076.21,506.69 1078.03,504.95 1079.84,503.22 1081.66,501.48 1083.47,499.75 1085.29,498.02 1087.11,496.29 1088.92,494.56 1090.74,492.83 1092.56,491.10 1094.39,489.38 1096.21,487.65 1098.03,485.93 1099.86,484.21 1101.68,482.49 1103.51,480.77 1105.33,479.05 1107.16,477.33 1108.99,475.61 1110.82,473.89 1112.65,472.18 1114.48,470.46 1116.31,468.75 1118.14,467.04 1119.97,465.32 1121.80,463.61 1123.64,461.90 1125.47,460.19 1127.30,458.48 1129.14,456.77 1130.97,455.07 1132.81,453.36 1134.64,451.65 1136.48,449.95 1138.32,448.24 1140.15,446.53 1141.99,444.83 1143.83,443.12 1145.66,441.42 1147.50,439.72 1149.34,438.01 1151.18,436.31 1153.01,434.61 1154.85,432.91 1156.69,431.20 1158.53,429.50 1160.37,427.80 1162.20,426.10 1164.04,424.40 1165.88,422.70 1167.72,420.99 1169.55,419.29 1171.39,417.59 1173.23,415.89 1175.07,414.19 1176.90,412.49 1178.74,410.79 1180.57,409.09 1182.41,407.39 1184.25,405.68 1186.08,403.98 1187.91,402.28 1189.75,400.58 1191.58,398.88 1193.42,397.17 1195.25,395.47 1197.08,393.77 1198.91,392.06 1200.74,390.36 1202.57,388.66 1204.40,386.95 1206.23,385.24 1208.06,383.54 1209.89,381.83 1211.71,380.12 1213.54,378.41 1215.36,376.70 1217.18,374.98 1219.01,373.27 1220.83,371.55 1222.65,369.83 1224.46,368.12 1226.28,366.40 1228.10,364.67 1229.91,362.95 1231.72,361.22 1233.54,359.50 1235.35,357.77 1237.15,356.03 1238.96,354.30 1240.77,352.56 1242.57,350.83 1244.37,349.09 1246.17,347.34 1247.97,345.60 1249.77,343.85 1251.57,342.10 1253.36,340.34 1255.15,338.59 1256.94,336.83 1258.73,335.07 1260.51,333.30 1262.29,331.53 1264.08,329.76 1265.85,327.99 1267.63,326.21 1269.40,324.43 1271.18,322.64 1272.95,320.85 1274.71,319.06 1276.48,317.26 1278.24,315.46 1280.00,313.66 1281.76,311.85 1283.51,310.04 1285.26,308.23 1287.01,306.41 1288.76,304.58 1290.50,302.75 1292.24,300.92 1293.98,299.08 1295.72,297.24 1297.45,295.39 1299.17,293.54 1300.88,291.68 1302.59,289.81 1304.28,287.93 1305.97,286.04 1307.64,284.15 1309.29,282.24 1310.92,280.31 1312.54,278.38 1314.14,276.43 1315.72,274.47 1317.27,272.49 1318.80,270.49 1320.30,268.48 1321.77,266.45 1323.22,264.40 1324.63,262.34 1326.01,260.25 1327.36,258.14 1328.68,256.01 1329.95,253.85 1331.20,251.68 1332.41,249.49 1333.58,247.29 1334.71,245.06 1335.81,242.81 1336.86,240.55 1337.88,238.27 1338.86,235.98 1339.80,233.67 1340.70,231.34 1341.55,229.00 1342.37,226.64 1343.14,224.27 1343.87,221.89 1344.55,219.49 1345.19,217.08 1345.79,214.66 1346.34,212.23 1346.84,209.79 1347.30,207.33 1347.71,204.87 1348.07,202.40 1348.38,199.91 1348.65,197.42 1348.87,194.92 1349.05,192.42 1349.19,189.91 1349.31,187.39 1349.39,184.87 1349.45,182.35 1349.50,179.83 1349.52,177.30 1349.54,174.78 1349.55,172.26 1349.56,169.74 1349.57,167.22 1349.59,164.71 1349.61,162.20 1349.66,159.69 1349.72,157.19 1349.80,154.70"/>
<polyline stroke="#6fac3e" points="758.00,907.60 758.78,905.20 759.57,902.80 760.40,900.42 761.24,898.05 762.11,895.69 763.00,893.34 763.92,890.99 764.86,888.66 765.81,886.34 766.79,884.03 767.79,881.73 768.81,879.44 769.85,877.16 770.91,874.89 771.99,872.63 773.09,870.37 774.20,868.13 775.33,865.89 776.48,863.67 777.65,861.45 778.83,859.24 780.03,857.04 781.24,854.84 782.46,852.66 783.71,850.48 784.96,848.31 786.23,846.15 787.51,843.99 788.81,841.84 790.11,839.70 791.43,837.57 792.76,835.44 794.10,833.32 795.45,831.21 796.81,829.10 798.18,827.00 799.56,824.90 800.95,822.82 802.34,820.73 803.74,818.66 805.15,816.58 806.57,814.52 808.00,812.46 809.43,810.41 810.87,808.36 812.32,806.32 813.78,804.29 815.25,802.26 816.72,800.24 818.20,798.23 819.70,796.22 821.20,794.22 822.71,792.23 824.23,790.25 825.75,788.28 827.29,786.31 828.84,784.35 830.39,782.40 831.96,780.46 833.53,778.53 835.12,776.61 836.71,774.69 838.32,772.78 839.94,770.89 841.56,769.00 843.20,767.12 844.84,765.26 846.50,763.40 848.17,761.55 849.85,759.71 851.54,757.88 853.24,756.06 854.94,754.26 856.66,752.46 858.39,750.66 860.13,748.88 861.88,747.11 863.64,745.34 865.40,743.59 867.18,741.84 868.96,740.10 870.75,738.37 872.55,736.64 874.36,734.92 876.17,733.21 877.99,731.51 879.82,729.81 881.66,728.12 883.50,726.43 885.35,724.75 887.20,723.08 889.06,721.41 890.93,719.75 892.81,718.09 894.68,716.44 896.57,714.80 898.46,713.15 900.35,711.52 902.25,709.88 904.16,708.26 906.06,706.63 907.98,705.01 909.90,703.40 911.82,701.79 913.74,700.18 915.67,698.57 917.61,696.97 919.54,695.37 921.48,693.78 923.43,692.19 925.37,690.60 927.32,689.01 929.28,687.43 931.23,685.84 933.19,684.27 935.15,682.69 937.11,681.11 939.08,679.54 941.04,677.97 943.01,676.40 944.98,674.83 946.95,673.26 948.92,671.69 950.90,670.13 952.87,668.56 954.85,667.00 956.82,665.44 958.80,663.87 960.78,662.31 962.75,660.75 964.73,659.19 966.71,657.62 968.68,656.06 970.66,654.50 972.64,652.93 974.61,651.37 976.59,649.80 978.56,648.23 980.53,646.66 982.50,645.09 984.47,643.52 986.44,641.95 988.41,640.38 990.37,638.80 992.34,637.22 994.30,635.64 996.25,634.06 998.21,632.47 1000.16,630.88 1002.11,629.29 1004.06,627.70 1006.00,626.10 1007.94,624.50 1009.88,622.90 1011.82,621.29 1013.75,619.68 1015.67,618.07 1017.59,616.45 1019.51,614.83 1021.43,613.20 1023.34,611.57 1025.24,609.94 1027.14,608.30 1029.04,606.65 1030.93,605.00 1032.81,603.35 1034.69,601.69 1036.57,600.02 1038.43,598.35 1040.30,596.68 1042.15,595.00 1044.01,593.31 1045.85,591.62 1047.70,589.92 1049.54,588.22 1051.37,586.52 1053.20,584.81 1055.02,583.10 1056.84,581.38 1058.66,579.66 1060.47,577.93 1062.28,576.20 1064.08,574.47 1065.88,572.73 1067.68,570.99 1069.47,569.25 1071.27,567.50 1073.05,565.75 1074.84,563.99 1076.62,562.24 1078.40,560.48 1080.18,558.72 1081.95,556.95 1083.72,555.19 1085.49,553.42 1087.26,551.65 1089.02,549.87 1090.79,548.10 1092.55,546.32 1094.31,544.54 1096.07,542.76 1097.83,540.98 1099.58,539.20 1101.34,537.41 1103.09,535.63 1104.85,533.84 1106.60,532.05 1108.35,530.27 1110.11,528.48 1111.86,526.69 1113.61,524.90 1115.36,523.11 1117.11,521.32 1118.87,519.53 1120.62,517.73 1122.37,515.94 1124.13,514.15 1125.88,512.36 1127.64,510.57 1129.39,508.79 1131.15,507.00 1132.91,505.21 1134.67,503.43 1136.43,501.64 1138.20,499.86 1139.96,498.07 1141.73,496.29 1143.50,494.51 1145.27,492.73 1147.04,490.96 1148.81,489.18 1150.59,487.40 1152.36,485.63 1154.14,483.86 1155.92,482.08 1157.70,480.31 1159.48,478.54 1161.26,476.77 1163.04,475.00 1164.83,473.23 1166.61,471.46 1168.39,469.69 1170.18,467.92 1171.96,466.15 1173.75,464.38 1175.54,462.61 1177.32,460.85 1179.11,459.08 1180.90,457.31 1182.68,455.54 1184.47,453.77 1186.25,452.00 1188.04,450.23 1189.82,448.46 1191.61,446.69 1193.39,444.92 1195.18,443.15 1196.96,441.38 1198.74,439.60 1200.53,437.83 1202.31,436.05 1204.09,434.28 1205.87,432.50 1207.64,430.72 1209.42,428.95 1211.19,427.17 1212.97,425.38 1214.74,423.60 1216.51,421.82 1218.28,420.03 1220.05,418.25 1221.81,416.46 1223.58,414.67 1225.34,412.87 1227.10,411.08 1228.86,409.29 1230.62,407.49 1232.37,405.69 1234.12,403.89 1235.87,402.08 1237.62,400.28 1239.36,398.47 1241.10,396.66 1242.84,394.85 1244.58,393.03 1246.31,391.22 1248.04,389.40 1249.77,387.57 1251.49,385.75 1253.21,383.92 1254.93,382.09 1256.64,380.26 1258.35,378.42 1260.06,376.58 1261.77,374.74 1263.47,372.89 1265.16,371.04 1266.86,369.19 1268.54,367.34 1270.23,365.48 1271.91,363.62 1273.59,361.75 1275.26,359.88 1276.93,358.01 1278.59,356.13 1280.25,354.25 1281.91,352.37 1283.56,350.48 1285.20,348.59 1286.84,346.69 1288.48,344.79 1290.11,342.89 1291.74,340.98 1293.36,339.07 1294.98,337.15 1296.59,335.23 1298.19,333.30 1299.79,331.37 1301.39,329.44 1302.98,327.50 1304.56,325.55 1306.14,323.60 1307.71,321.65 1309.28,319.69 1310.84,317.73 1312.40,315.76 1313.95,313.79 1315.49,311.81 1317.02,309.82 1318.55,307.83 1320.08,305.84 1321.60,303.84 1323.11,301.83 1324.61,299.82 1326.11,297.80 1327.60,295.78 1329.08,293.75 1330.56,291.72 1332.03,289.68 1333.49,287.63 1334.95,285.58 1336.40,283.52 1337.84,281.46 1339.27,279.39 1340.70,277.31 1342.11,275.23 1343.51,273.13 1344.90,271.03 1346.27,268.92 1347.62,266.80 1348.94,264.67 1350.24,262.52 1351.51,260.37 1352.74,258.19 1353.94,256.01 1355.10,253.80 1356.23,251.58 1357.31,249.34 1358.34,247.09 1359.32,244.81 1360.26,242.52 1361.14,240.20 1361.96,237.86 1362.73,235.50 1363.44,233.12 1364.11,230.73 1364.72,228.31 1365.29,225.88 1365.81,223.44 1366.28,220.98 1366.72,218.51 1367.11,216.02 1367.47,213.53 1367.79,211.03 1368.07,208.52 1368.32,206.01 1368.54,203.49 1368.73,200.96 1368.89,198.44 1369.03,195.91 1369.15,193.38 1369.24,190.85 1369.32,188.33 1369.39,185.80 1369.44,183.27 1369.48,180.75 1369.52,178.23 1369.55,175.71 1369.58,173.19 1369.61,170.68 1369.65,168.18 1369.69,165.68 1369.74,163.19 1369.80,160.71"/>
<polyline stroke="#6f6a6a" points="400.10,1129.10 402.14,1127.64 404.18,1126.17 406.22,1124.71 408.26,1123.24 410.30,1121.77 412.33,1120.30 414.36,1118.83 416.40,1117.36 418.43,1115.88 420.45,1114.41 422.48,1112.93 424.51,1111.45 426.53,1109.97 428.56,1108.48 430.58,1107.00 432.60,1105.51 434.62,1104.02 436.64,1102.53 438.65,1101.04 440.67,1099.55 442.68,1098.05 444.69,1096.55 446.70,1095.06 448.71,1093.56 450.72,1092.06 452.73,1090.55 454.73,1089.05 456.74,1087.54 458.74,1086.04 460.74,1084.53 462.74,1083.02 464.74,1081.51 466.74,1079.99 468.73,1078.48 470.73,1076.96 472.72,1075.44 474.72,1073.93 476.71,1072.41 478.70,1070.88 480.69,1069.36 482.68,1067.84 484.66,1066.31 486.65,1064.78 488.63,1063.26 490.62,1061.73 492.60,1060.19 494.58,1058.66 496.56,1057.13 498.54,1055.59 500.52,1054.06 502.50,1052.52 504.47,1050.98 506.45,1049.44 508.42,1047.90 510.39,1046.36 512.36,1044.81 514.33,1043.27 516.30,1041.72 518.27,1040.17 520.24,1038.63 522.21,1037.08 524.17,1035.53 526.14,1033.97 528.10,1032.42 530.06,1030.87 532.03,1029.31 533.99,1027.75 535.95,1026.20 537.90,1024.64 539.86,1023.08 541.82,1021.52 543.78,1019.95 545.73,1018.39 547.69,1016.83 549.64,1015.26 551.59,1013.70 553.54,1012.13 555.50,1010.56 557.45,1008.99 559.40,1007.42 561.34,1005.85 563.29,1004.28 565.24,1002.71 567.19,1001.13 569.13,999.56 571.08,997.98 573.02,996.41 574.96,994.83 576.91,993.25 578.85,991.67 580.79,990.09 582.73,988.51 584.67,986.93 586.61,985.34 588.55,983.76 590.48,982.18 592.42,980.59 594.36,979.01 596.29,977.42 598.23,975.83 600.16,974.24 602.10,972.66 604.03,971.07 605.96,969.48 607.90,967.88 609.83,966.29 611.76,964.70 613.69,963.11 615.62,961.51 617.55,959.92 619.48,958.32 621.41,956.73 623.33,955.13 625.26,953.53 627.19,951.94 629.11,950.34 631.04,948.74 632.97,947.14 634.89,945.54 636.82,943.94 638.74,942.34 640.66,940.74 642.59,939.13 644.51,937.53 646.43,935.93 648.35,934.32 650.28,932.72 652.20,931.11 654.12,929.51 656.04,927.90 657.96,926.30 659.88,924.69 661.80,923.08 663.72,921.48 665.64,919.87 667.56,918.26 669.48,916.65 671.39,915.04 673.31,913.43 675.23,911.82 677.15,910.21 679.06,908.60 680.98,906.99 682.90,905.38 684.82,903.77 686.73,902.16 688.65,900.54 690.56,898.93 692.48,897.32 694.40,895.71 696.31,894.09 698.23,892.48 700.14,890.87 702.06,889.25 703.97,887.64 705.89,886.02 707.80,884.41 709.72,882.79 711.63,881.18 713.55,879.57 715.46,877.95 717.38,876.34 719.29,874.72 721.20,873.10 723.12,871.49 725.03,869.87 726.95,868.26 728.86,866.64 730.78,865.03 732.69,863.41 734.61,861.79 736.52,860.18 738.43,858.56 740.35,856.95 742.26,855.33 744.18,853.71 746.09,852.10 748.01,850.48 749.92,848.87 751.84,847.25 753.75,845.64 755.67,844.02 757.59,842.40 759.50,840.79 761.42,839.17 763.33,837.56 765.25,835.94 767.17,834.33 769.08,832.71 771.00,831.10 772.92,829.48 774.83,827.87 776.75,826.25 778.67,824.64 780.59,823.02 782.50,821.41 784.42,819.80 786.34,818.18 788.26,816.57 790.18,814.95 792.10,813.34 794.02,811.73 795.93,810.11 797.85,808.50 799.77,806.89 801.69,805.28 803.61,803.66 805.53,802.05 807.45,800.44 809.37,798.82 811.29,797.21 813.21,795.60 815.13,793.99 817.05,792.38 818.97,790.76 820.90,789.15 822.82,787.54 824.74,785.93 826.66,784.32 828.58,782.71 830.50,781.10 832.43,779.49 834.35,777.88 836.27,776.27 838.19,774.66 840.12,773.05 842.04,771.44 843.96,769.83 845.89,768.22 847.81,766.61 849.73,765.00 851.66,763.39 853.58,761.78 855.50,760.17 857.43,758.56 859.35,756.95 861.28,755.35 863.20,753.74 865.13,752.13 867.05,750.52 868.98,748.91 870.90,747.31 872.83,745.70 874.75,744.09 876.68,742.48 878.61,740.88 880.53,739.27 882.46,737.66 884.38,736.06 886.31,734.45 888.24,732.85 890.16,731.24 892.09,729.64 894.02,728.03 895.95,726.43 897.87,724.82 899.80,723.22 901.73,721.61 903.66,720.01 905.58,718.40 907.51,716.80 909.44,715.19 911.37,713.59 913.30,711.99 915.23,710.38 917.16,708.78 919.09,707.18 921.02,705.58 922.95,703.97 924.87,702.37 926.80,700.77 928.73,699.17 930.66,697.57 932.60,695.97 934.53,694.36 936.46,692.76 938.39,691.16 940.32,689.56 942.25,687.96 944.18,686.36 946.11,684.76 948.04,683.16 949.97,681.56 951.91,679.96 953.84,678.37 955.77,676.77 957.70,675.17 959.63,673.57 961.57,671.97 963.50,670.37 965.43,668.78 967.37,667.18 969.30,665.58 971.23,663.99 973.17,662.39 975.10,660.79 977.03,659.20 978.97,657.60 980.90,656.01 982.84,654.41 984.77,652.82 986.70,651.22 988.64,649.63 990.57,648.03 992.51,646.44 994.44,644.84 996.38,643.25 998.31,641.66 1000.25,640.06 1002.18,638.47 1004.12,636.88 1006.06,635.29 1007.99,633.69 1009.93,632.10 1011.87,630.51 1013.80,628.92 1015.74,627.33 1017.67,625.74 1019.61,624.15 1021.55,622.56 1023.49,620.97 1025.42,619.38 1027.36,617.79 1029.30,616.20 1031.24,614.61 1033.17,613.02 1035.11,611.43 1037.05,609.84 1038.99,608.26 1040.93,606.67 1042.87,605.08 1044.80,603.49 1046.74,601.91 1048.68,600.32 1050.62,598.73 1052.56,597.15 1054.50,595.56 1056.44,593.98 1058.38,592.39 1060.32,590.81 1062.26,589.22 1064.20,587.64 1066.14,586.06 1068.08,584.47 1070.02,582.89 1071.96,581.31 1073.90,579.72 1075.84,578.14 1077.79,576.56 1079.73,574.98 1081.67,573.40 1083.61,571.81 1085.55,570.23 1087.49,568.65 1089.43,567.07 1091.38,565.49 1093.32,563.91 1095.26,562.33 1097.20,560.75 1099.14,559.17 1101.08,557.59 1103.03,556.01 1104.97,554.43 1106.91,552.85 1108.85,551.27 1110.79,549.69 1112.73,548.11 1114.67,546.53 1116.61,544.95 1118.55,543.37 1120.49,541.79 1122.44,540.21 1124.38,538.63 1126.32,537.04 1128.26,535.46 1130.19,533.88 1132.13,532.30 1134.07,530.72 1136.01,529.13 1137.95,527.55 1139.89,525.97 1141.83,524.39 1143.76,522.80 1145.70,521.22 1147.64,519.63 1149.57,518.05 1151.51,516.46 1153.44,514.88 1155.38,513.29 1157.31,511.70 1159.25,510.11 1161.18,508.53 1163.12,506.94 1165.05,505.35 1166.98,503.76 1168.91,502.17 1170.84,500.58 1172.78,498.98 1174.71,497.39 1176.64,495.80 1178.56,494.20 1180.49,492.61 1182.42,491.01 1184.35,489.42 1186.28,487.82 1188.20,486.22 1190.13,484.62 1192.05,483.02 1193.98,481.42 1195.90,479.82 1197.82,478.22 1199.74,476.61 1201.66,475.01 1203.58,473.40 1205.50,471.80 1207.42,470.19 1209.34,468.58 1211.26,466.97 1213.17,465.36 1215.09,463.75 1217.01,462.13 1218.92,460.52 1220.83,458.90 1222.74,457.29 1224.66,455.67 1226.57,454.05 1228.47,452.43 1230.38,450.81 1232.29,449.19 1234.20,447.56 1236.10,445.94 1238.01,444.31 1239.91,442.68 1241.81,441.05 1243.71,439.42 1245.61,437.79 1247.51,436.16 1249.41,434.52 1251.31,432.88 1253.21,431.25 1255.10,429.61 1256.99,427.96 1258.89,426.32 1260.78,424.68 1262.67,423.03 1264.56,421.38 1266.45,419.73 1268.33,418.08 1270.22,416.43 1272.10,414.78 1273.98,413.12 1275.87,411.46 1277.75,409.80 1279.63,408.14 1281.50,406.48 1283.38,404.81 1285.26,403.15 1287.13,401.48 1289.00,399.81 1290.87,398.13 1292.74,396.46 1294.61,394.78 1296.48,393.11 1298.34,391.42 1300.21,389.74 1302.07,388.06 1303.93,386.37 1305.79,384.68 1307.65,382.99 1309.50,381.30 1311.36,379.61 1313.21,377.91 1315.06,376.21 1316.91,374.51 1318.76,372.81 1320.61,371.10 1322.46,369.39 1324.30,367.68 1326.14,365.97 1327.98,364.25 1329.82,362.54 1331.66,360.82 1333.49,359.10 1335.33,357.37 1337.16,355.65 1338.99,353.92 1340.82,352.19 1342.65,350.45 1344.47,348.72 1346.30,346.98 1348.12,345.24 1349.94,343.49 1351.75,341.75 1353.57,340.00 1355.38,338.25 1357.20,336.49 1359.01,334.74 1360.82,332.98 1362.62,331.22 1364.43,329.45 1366.23,327.68 1368.03,325.91 1369.83,324.14 1371.63,322.36 1373.42,320.59 1375.21,318.81 1377.01,317.02 1378.79,315.23 1380.58,313.44 1382.37,311.65 1384.15,309.86 1385.93,308.06 1387.71,306.26 1389.48,304.45 1391.26,302.64 1393.03,300.83 1394.80,299.02 1396.57,297.20 1398.33,295.39 1400.09,293.56 1401.85,291.73 1403.60,289.90 1405.34,288.06 1407.08,286.22 1408.80,284.37 1410.52,282.52 1412.22,280.65 1413.92,278.79 1415.59,276.91 1417.26,275.02 1418.91,273.13 1420.54,271.23 1422.16,269.32 1423.76,267.40 1425.34,265.46 1426.89,263.52 1428.43,261.57 1429.95,259.61 1431.44,257.63 1432.91,255.64 1434.35,253.64 1435.76,251.63 1437.15,249.60 1438.51,247.56 1439.84,245.50 1441.14,243.43 1442.41,241.35 1443.64,239.24 1444.85,237.13 1446.01,234.99 1447.15,232.84 1448.24,230.67 1449.30,228.49 1450.32,226.29 1451.30,224.06 1452.24,221.82 1453.13,219.56 1453.99,217.28 1454.80,214.98 1455.57,212.66 1456.29,210.31 1456.96,207.95 1457.59,205.56 1458.16,203.15 1458.69,200.72 1459.17,198.27 1459.59,195.79 1459.97,193.30 1460.31,190.79 1460.60,188.26 1460.85,185.73 1461.06,183.18 1461.23,180.63 1461.36,178.08 1461.46,175.52 1461.53,172.96 1461.57,170.41 1461.57,167.86 1461.55,165.32 1461.51,162.79 1461.44,160.28 1461.35,157.78"/>
</g>
<g stroke="#231f20" stroke-width="3.4" fill="none">
<rect x="273.9" y="96.4" width="1838.2" height="1324.3"/>
<line x1="254.9" y1="96.4" x2="273.9" y2="96.4"/>
<line x1="254.9" y1="243.5" x2="273.9" y2="243.5"/>
<line x1="254.9" y1="390.7" x2="273.9" y2="390.7"/>
<line x1="254.9" y1="537.8" x2="273.9" y2="537.8"/>
<line x1="254.9" y1="685.0" x2="273.9" y2="685.0"/>
<line x1="254.9" y1="832.1" x2="273.9" y2="832.1"/>
<line x1="254.9" y1="979.3" x2="273.9" y2="979.3"/>
<line x1="254.9" y1="1126.4" x2="273.9" y2="1126.4"/>
<line x1="254.9" y1="1273.6" x2="273.9" y2="1273.6"/>
<line x1="254.9" y1="1420.7" x2="273.9" y2="1420.7"/>
<line x1="273.9" y1="1420.7" x2="273.9" y2="1439.7"/>
<line x1="522.3" y1="1420.7" x2="522.3" y2="1439.7"/>
<line x1="770.7" y1="1420.7" x2="770.7" y2="1439.7"/>
<line x1="1019.1" y1="1420.7" x2="1019.1" y2="1439.7"/>
<line x1="1267.5" y1="1420.7" x2="1267.5" y2="1439.7"/>
<line x1="1515.9" y1="1420.7" x2="1515.9" y2="1439.7"/>
<line x1="1764.3" y1="1420.7" x2="1764.3" y2="1439.7"/>
<line x1="2012.7" y1="1420.7" x2="2012.7" y2="1439.7"/>
</g>
<g class="b" font-size="63">
<text x="219.3" y="115.7" text-anchor="end">1</text>
<text x="219.3" y="263.1" text-anchor="end">0</text>
<text x="219.3" y="410.5" text-anchor="end">-1</text>
<text x="219.3" y="557.9" text-anchor="end">-2</text>
<text x="219.3" y="705.4" text-anchor="end">-3</text>
<text x="219.3" y="852.8" text-anchor="end">-4</text>
<text x="219.3" y="1000.2" text-anchor="end">-5</text>
<text x="219.3" y="1147.6" text-anchor="end">-6</text>
<text x="219.3" y="1295.0" text-anchor="end">-7</text>
<text x="219.3" y="1442.4" text-anchor="end">-8</text>
<text x="273.9" y="1514.6" text-anchor="middle">-1.2</text>
<text x="522.3" y="1514.6" text-anchor="middle">-0.7</text>
<text x="770.7" y="1514.6" text-anchor="middle">-0.2</text>
<text x="1019.1" y="1514.6" text-anchor="middle">0.3</text>
<text x="1267.5" y="1514.6" text-anchor="middle">0.8</text>
<text x="1515.9" y="1514.6" text-anchor="middle">1.3</text>
<text x="1764.3" y="1514.6" text-anchor="middle">1.8</text>
<text x="2012.7" y="1514.6" text-anchor="middle">2.3</text>
</g>
<text class="b" font-size="70" letter-spacing="1.4" x="1194.1" y="1588.8" text-anchor="middle">log t</text>
<text class="b" x="1126.5" y="1731.7"><tspan font-size="71.7">(</tspan><tspan font-size="80" x="1151.5" y="1738.8">a</tspan><tspan font-size="71.7" x="1190.5" y="1731.7">)</tspan></text>
<text class="b" font-size="72" letter-spacing="0.4" transform="translate(114.7 806.5) rotate(-90)" text-anchor="middle">log[-ln(1-X<tspan font-size="52" font-weight="normal" dy="17">t</tspan><tspan dy="-17">)]</tspan></text>
<g stroke-width="7.5" stroke-linecap="round">
<line x1="1623.8" y1="828.8" x2="1717" y2="828.8" stroke="#632e99"/>
<line x1="1623.8" y1="909.0" x2="1717" y2="909.0" stroke="#b71e24"/>
<line x1="1623.8" y1="989.4" x2="1717" y2="989.4" stroke="#e56e30"/>
<line x1="1623.8" y1="1069.7" x2="1717" y2="1069.7" stroke="#3a5193"/>
<line x1="1623.8" y1="1150.0" x2="1717" y2="1150.0" stroke="#f2b81c"/>
<line x1="1623.8" y1="1230.2" x2="1717" y2="1230.2" stroke="#6fac3e"/>
<line x1="1623.8" y1="1310.5" x2="1717" y2="1310.5" stroke="#6f6a6a"/>
</g>
<g font-size="63" letter-spacing="0.3">
<text x="1726" y="848.8">NEAT PLA</text>
<text x="1726" y="929.0">PLA/CNF1</text>
<text x="1726" y="1009.4">PLA/CNF2</text>
<text x="1726" y="1089.7">PLA/CNF3</text>
<text x="1726" y="1170.0">PLA/CNF4</text>
<text x="1726" y="1250.2">PLA/CNF5</text>
<text x="1726" y="1330.5">PLA/CNF6</text>
</g>
</svg></body></html>
